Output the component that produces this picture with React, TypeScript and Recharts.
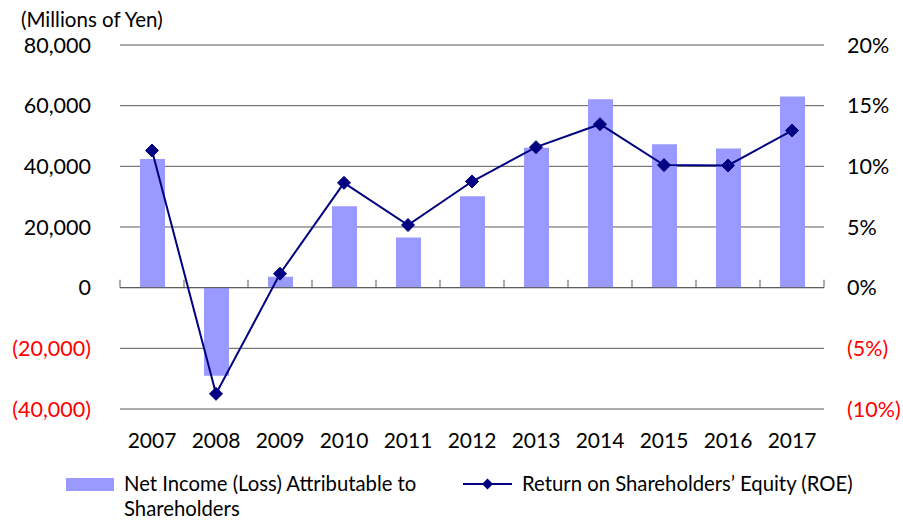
import { ComposedChart, Bar, Line, XAxis, YAxis, CartesianGrid, ReferenceLine, Legend } from "recharts"

const years = ["2007", "2008", "2009", "2010", "2011", "2012", "2013", "2014", "2015", "2016", "2017"]
const netIncome = [42400, -29000, 3600, 26800, 16500, 30100, 46100, 62100, 47300, 45900, 63000]
const roe = [11.3, -8.75, 1.15, 8.64, 5.16, 8.75, 11.58, 13.47, 10.1, 10.07, 12.95]
const leftTicks = [-40000, -20000, 0, 20000, 40000, 60000, 80000]
const rightTicks = [-10, -5, 0, 5, 10, 15, 20]

const data = years.map((year, i) => ({
  idx: i,
  year,
  netIncome: netIncome[i],
  roe: roe[i],
}))

// category boundaries for the small tick marks on the zero line
const boundaries = Array.from({ length: years.length + 1 }, (_, i) => i - 0.5)

const FONT = "Lato, 'Open Sans', sans-serif"
const NAVY = "#000080"
const BAR = "#9999FF"

const fmtLeft = (v: number) =>
  v < 0 ? `(${Math.abs(v).toLocaleString("en-US")})` : v.toLocaleString("en-US")
const fmtRight = (v: number) => (v < 0 ? `(${Math.abs(v)}%)` : `${v}%`)

const LeftTick = (props: any) => {
  const { x, y, payload } = props
  const v = payload.value
  return (
    <text x={x} y={y} dy="0.36em" textAnchor="end" fill={v < 0 ? "#FF0000" : "#000"} fontSize={21.5} fontFamily={FONT}>
      {fmtLeft(v)}
    </text>
  )
}

const RightTick = (props: any) => {
  const { x, y, payload } = props
  const v = payload.value
  return (
    <text x={x} y={y} dy="0.36em" textAnchor="start" fill={v < 0 ? "#FF0000" : "#000"} fontSize={21.5} fontFamily={FONT}>
      {fmtRight(v)}
    </text>
  )
}

const YearTick = (props: any) => {
  const { x, y, payload } = props
  return (
    <text x={x} y={y} dy="0.36em" textAnchor="middle" fill="#000" fontSize={21} fontFamily={FONT}>
      {years[payload.value]}
    </text>
  )
}

const Diamond = (props: any) => {
  const { cx, cy } = props
  if (cx == null || cy == null) return null
  const r = 6.5
  return (
    <polygon
      points={`${cx},${cy - r} ${cx + r},${cy} ${cx},${cy + r} ${cx - r},${cy}`}
      fill={NAVY}
      stroke={NAVY}
    />
  )
}

const UnitLabel = (props: any) => {
  const { viewBox } = props
  return (
    <text x={viewBox.x + 21} y={viewBox.y - 25} dy="0.36em" fontSize={20.5} fontFamily={FONT} fill="#000">
      (Millions of Yen)
    </text>
  )
}

const renderLegend = () => (
  <div style={{ position: "relative", width: 903, height: 48, fontSize: 20.3, fontFamily: FONT, color: "#000", lineHeight: "25px" }}>
    <div style={{ position: "absolute", left: 66, top: 7, width: 48, height: 13, background: BAR }} />
    <div style={{ position: "absolute", left: 124, top: 0, whiteSpace: "nowrap" }}>
      Net Income (Loss) Attributable to
      <br />
      Shareholders
    </div>
    <svg style={{ position: "absolute", left: 463, top: 0 }} width={50} height={26}>
      <line x1={0} y1={13} x2={49} y2={13} stroke={NAVY} strokeWidth={2} />
      <polygon points="24.5,7.5 30,13 24.5,18.5 19,13" fill={NAVY} />
    </svg>
    <div style={{ position: "absolute", left: 522, top: 0, whiteSpace: "nowrap" }}>
      Return on Shareholders’ Equity (ROE)
    </div>
  </div>
)

export default function App() {
  return (
    <div style={{ position: "absolute", left: 0, top: 0, width: 903, height: 520, background: "#fff", fontFamily: FONT }}>
      <ComposedChart width={903} height={520} data={data} margin={{ top: 45, right: 0, bottom: 71, left: 0 }}>
        <CartesianGrid vertical={false} yAxisId="left" stroke="#595959" />
        <XAxis
          dataKey="idx"
          type="number"
          domain={[-0.5, 10.5]}
          ticks={years.map((_, i) => i)}
          interval={0}
          axisLine={false}
          tickLine={false}
          tickSize={0}
          tickMargin={31}
          height={40}
          tick={<YearTick />}
        />
        <YAxis
          yAxisId="left"
          orientation="left"
          domain={[-40000, 80000]}
          ticks={leftTicks}
          interval={0}
          width={120}
          axisLine={false}
          tickLine={false}
          tickSize={0}
          tickMargin={29}
          tick={<LeftTick />}
          label={<UnitLabel />}
        />
        <YAxis
          yAxisId="right"
          orientation="right"
          domain={[-10, 20]}
          ticks={rightTicks}
          interval={0}
          width={79}
          axisLine={false}
          tickLine={false}
          tickSize={0}
          tickMargin={23}
          tick={<RightTick />}
        />
        <Bar dataKey="netIncome" yAxisId="left" fill={BAR} barSize={25} isAnimationActive={false} />
        <ReferenceLine y={0} yAxisId="left" stroke="#595959" />
        {boundaries.map((b) => (
          <ReferenceLine
            key={b}
            yAxisId="left"
            segment={[{ x: b, y: 0 }, { x: b, y: 2600 }]}
            stroke="#595959"
          />
        ))}
        <Line
          dataKey="roe"
          yAxisId="right"
          stroke={NAVY}
          strokeWidth={2}
          dot={<Diamond />}
          activeDot={false}
          isAnimationActive={false}
        />
        <Legend
          layout="vertical"
          align="center"
          verticalAlign="middle"
          content={renderLegend}
          wrapperStyle={{ left: 0, top: 471, width: 903, height: 48 }}
        />
      </ComposedChart>
    </div>
  )
}
